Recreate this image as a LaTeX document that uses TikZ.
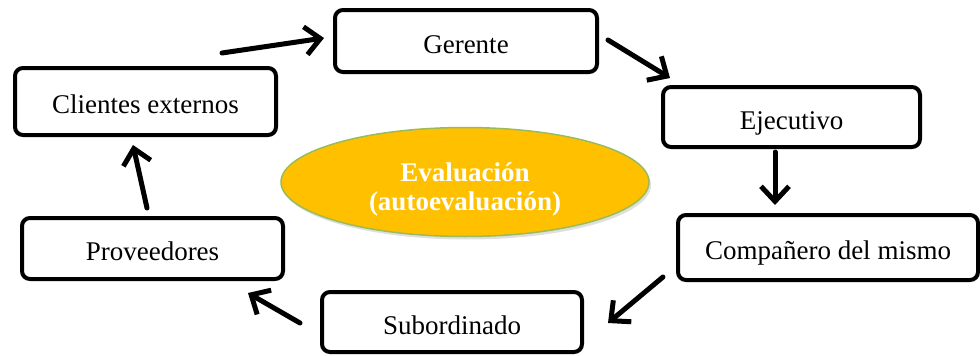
\documentclass[tikz,border=0pt]{standalone}
\usepackage{fontspec}
\setmainfont{Liberation Serif}
\usetikzlibrary{arrows.meta,shapes.geometric,shadows}
\definecolor{gold}{HTML}{FFC000}
\definecolor{olive}{HTML}{9BBB59}
\tikzset{
  box/.style={draw=black, line width=4pt, rounded corners=8pt, fill=white, inner sep=0pt, font=\fontsize{27}{30}\selectfont, text height=25pt, text depth=1pt, anchor=center},
  conn/.style={line width=5pt, line cap=round, -{Straight Barb[length=15pt,width=28pt,line width=5pt]}},
}
\begin{document}
\begin{tikzpicture}[x=1pt,y=-1pt]
\useasboundingbox (0,0) rectangle (980,356);
\node[ellipse, fill=gold, draw=olive, line width=1.5pt, minimum width=368pt, minimum height=109pt, inner sep=0pt,
  drop shadow={shadow xshift=2pt, shadow yshift=-3pt, opacity=0.25}] (eva) at (465,182) {};
\node[text=white, font=\bfseries\fontsize{27}{29}\selectfont, align=center, anchor=center] (evat) at (465,189) {Evaluación\\(autoevaluación)};
\node[box, minimum width=262pt, minimum height=62pt] (ger) at (466,41) {Gerente};
\node[box, minimum width=261pt, minimum height=67pt] (cli) at (145.5,101.5) {Clientes externos};
\node[box, minimum width=257pt, minimum height=60pt] (eje) at (791.5,117) {Ejecutivo};
\node[box, minimum width=300pt, minimum height=65pt] (com) at (828,247.5) {Compañero del mismo};
\node[box, minimum width=260pt, minimum height=60pt] (sub) at (452,322) {Subordinado};
\node[box, minimum width=261pt, minimum height=61pt] (pro) at (152.5,248.5) {Proveedores};
\coordinate (a1s) at (222,53); \coordinate (a1e) at (324,38);
\coordinate (a2s) at (608,40); \coordinate (a2e) at (670,78);
\coordinate (a3s) at (775,152); \coordinate (a3e) at (775,205);
\coordinate (a4s) at (663,277); \coordinate (a4e) at (608,323);
\coordinate (a5s) at (300,323); \coordinate (a5e) at (248,293);
\coordinate (a6s) at (147,208); \coordinate (a6e) at (133,145);
\draw[conn] (a1s) -- (a1e);
\draw[conn] (a2s) -- (a2e);
\draw[conn] (a3s) -- (a3e);
\draw[conn] (a4s) -- (a4e);
\draw[conn] (a5s) -- (a5e);
\draw[conn] (a6s) -- (a6e);
\end{tikzpicture}
\end{document}
